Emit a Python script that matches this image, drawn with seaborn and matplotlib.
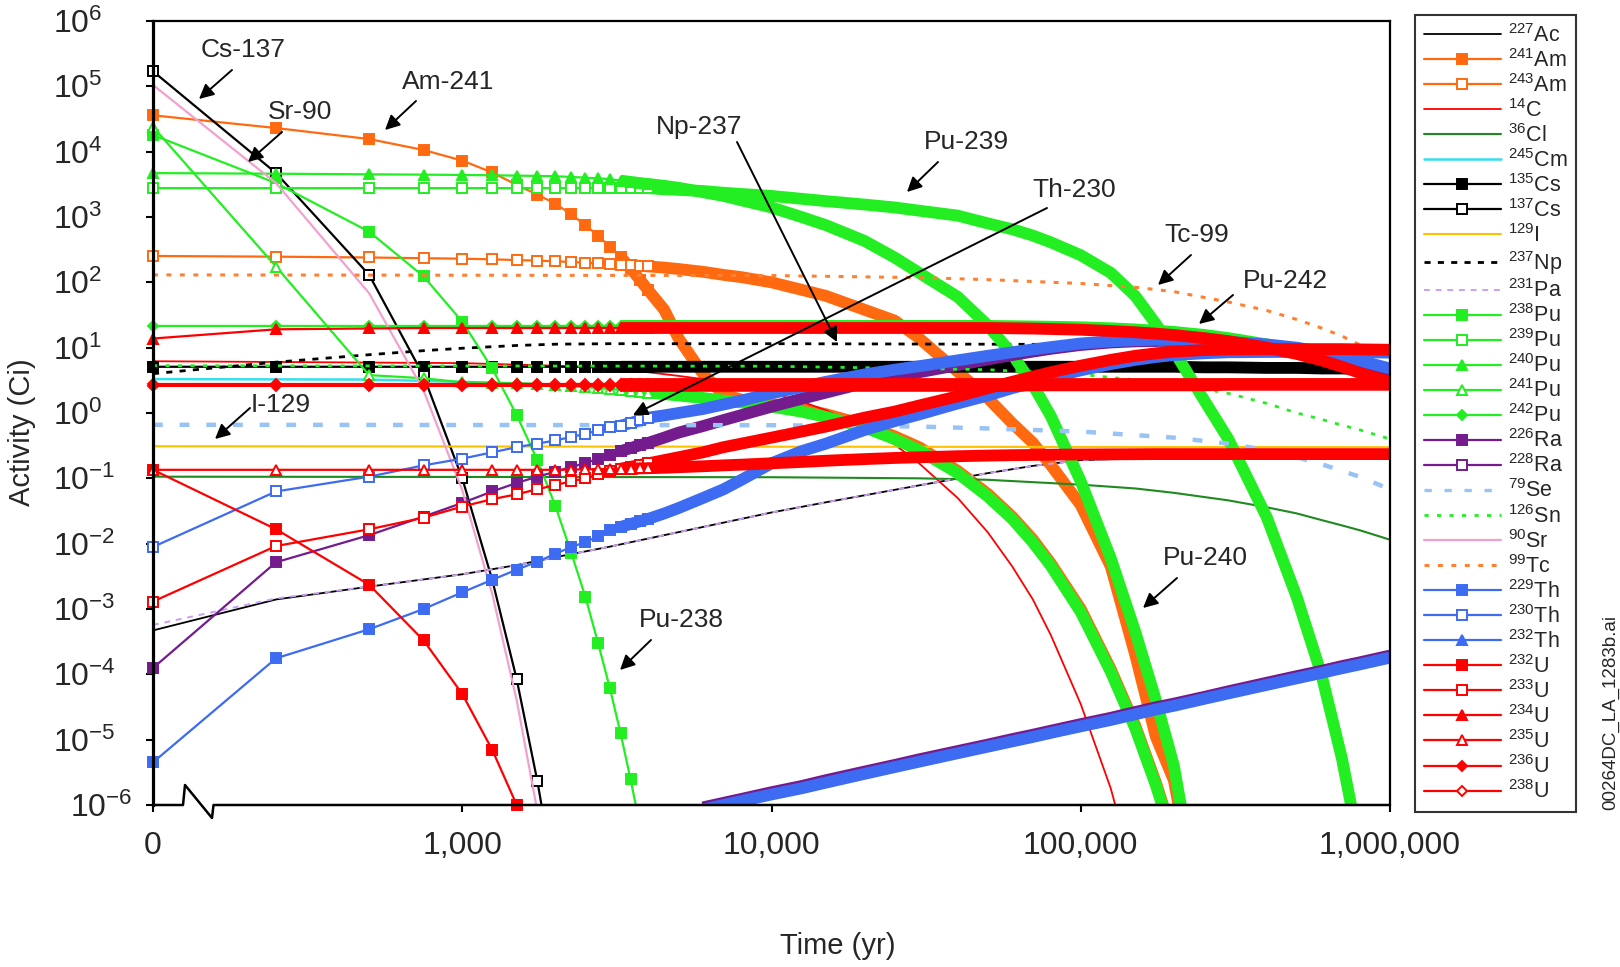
import numpy as np
import matplotlib
matplotlib.use("Agg")
import matplotlib.pyplot as plt
from matplotlib.lines import Line2D
import seaborn as sns

nan = np.nan

# ---- time grids (yr); t = 0 sits at the axis break ----
t_full = [0, 250, 500, 750, 1000, 1250, 1500, 1750, 2000, 2250, 2500, 2750, 3000, 3250,
          3500, 3750, 4000, 4500, 5000, 6000, 7000, 8000, 10000, 12500, 15000, 20000, 25000,
          30000, 40000, 50000, 60000, 70000, 80000, 100000, 125000, 150000, 175000, 200000,
          250000, 300000, 400000, 500000, 600000, 700000, 800000, 1000000]
t_early = [0, 250, 500, 750, 1000, 1250, 1500, 1750, 2000, 2250, 2500, 2750, 3000, 3250, 3500, 3750]
t_late = [6000, 7000, 8000, 10000, 12500, 15000, 20000, 25000, 30000, 40000, 50000, 60000, 70000,
          80000, 100000, 125000, 150000, 175000, 200000, 250000, 300000, 400000, 500000, 600000,
          700000, 800000, 1000000]
t_ac = [0, 250, 500, 1000, 1500, 2000, 3000, 5000, 7000, 10000, 15000, 20000, 30000, 50000,
        70000, 100000, 200000, 500000, 1000000]
t_c14 = [0, 1000, 2000, 3000, 4000, 5000, 6000, 7000, 8000, 10000, 12500, 15000, 20000, 25000,
         30000, 40000, 50000, 60000, 70000, 80000, 100000, 125000, 140000]
t_cl36 = [0, 10000, 30000, 50000, 100000, 150000, 200000, 300000, 400000, 500000, 600000,
          700000, 800000, 1000000]
t_cm245 = [0, 500, 1000, 2000, 3000, 5000, 7000, 10000, 15000, 20000, 30000, 50000, 70000,
           100000, 150000, 200000]
t_i129 = [0, 1000000]
t_np237 = [0, 250, 500, 750, 1000, 1500, 2000, 3000, 5000, 10000, 50000, 100000, 500000, 1000000]
t_se79 = [0, 10000, 30000, 50000, 100000, 200000, 300000, 400000, 500000, 600000, 700000,
          800000, 1000000]
t_sn126 = [0, 10000, 50000, 100000, 200000, 300000, 400000, 500000, 600000, 700000, 800000, 1000000]
t_tc99 = [0, 10000, 30000, 50000, 100000, 150000, 200000, 300000, 400000, 500000, 600000,
          700000, 800000, 900000, 1000000]

# ---- activities (Ci) ----
ac227 = [4.7e-4, 1.4e-3, 2.2e-3, 3.4e-3, 4.7e-3, 6.2e-3, 9e-3, 0.015, 0.021, 0.03, 0.043, 0.055,
         0.078, 0.12, 0.155, 0.19, 0.21, 0.21, 0.2]
pa231 = [5.7e-4, 1.45e-3, 2.2e-3, 3.4e-3, 4.7e-3, 6.2e-3, 9e-3, 0.015, 0.021, 0.03, 0.043, 0.055,
         0.078, 0.12, 0.155, 0.19, 0.21, 0.21, 0.2]
am241 = [3.6e4, 2.3e4, 1.56e4, 1.06e4, 7.3e3, 4.8e3, 3.1e3, 2.2e3, 1.6e3,
         1.1e3, 750, 520, 350, 245, 165, 110, 75,
         38, 14, 4.0, 1.9, 1.6, 1.38, 1.16, 0.96, 0.66, 0.44, 0.3,
         0.13, 0.058, 0.026, 0.0116, 5e-3, 1e-3, 1.2e-4, 1.65e-5, 2.2e-6, 3e-7,
         nan, nan, nan, nan, nan, nan, nan, nan]
am243 = [253, 247, 240, 234, 230, 225, 219, 215, 210,
         205, 200, 195, 190, 187, 183, 179, 175,
         168, 160, 145, 130, 120, 100, 77, 62, 38, 26, 14,
         4.3, 1.7, 0.7, 0.35, 0.16, 0.039, 4.5e-3, 2e-4, 1.1e-5, 2.4e-6,
         1e-8, nan, nan, nan, nan, nan, nan, nan]
c14 = [6.2, 5.8, 5.3, 4.8, 4.2, 3.7, 3.3, 2.9, 2.5, 2.0, 1.5, 1.1, 0.6, 0.33, 0.17, 0.05, 0.015,
       4.5e-3, 1.4e-3, 4e-4, 3.5e-5, 1.8e-6, 2.5e-7]
cl36 = [0.106, 0.104, 0.1, 0.095, 0.08, 0.07, 0.06, 0.046, 0.036, 0.029, 0.023, 0.019, 0.016, 0.0115]
cm245 = [3.3, 3.25, 3.0, 2.7, 2.35, 1.85, 1.55, 1.25, 0.87, 0.6, 0.27, 0.053, 0.0105, 9e-4,
         1.5e-5, 2.7e-7]
cs135 = [5.1, 5.1, 5.1, 5.1, 5.1, 5.1, 5.1, 5.1, 5.1,
         5.1, 5.1, 5.1, 5.1, 5.1, 5.1, 5.1, 5.1,
         5.1, 5.1, 5.1, 5.1, 5.1, 5.1, 5.1, 5.1, 5.1, 5.1, 5.1,
         5.1, 5.1, 5.1, 5.1, 5.1, 5.1, 5.1, 5.1, 5.1, 5.1,
         5.0, 5.0, 4.9, 4.9, 4.8, 4.8, 4.7, 4.6]
cs137 = [1.7e5, 4.7e3, 130, 3.7, 0.1, 2.8e-3, 8.4e-5, 2.3e-6, 6e-8, nan, nan, nan, nan, nan, nan, nan]
i129 = [0.31, 0.30]
np237 = [4.0, 6.0, 7.8, 9.0, 9.8, 10.8, 11.3, 11.5, 11.5, 11.5, 11.3, 11.2, 10.5, 10.0]
pu238 = [1.8e4, 3.3e3, 596, 123, 25, 4.8, 0.93, 0.19, 0.038, 7.3e-3, 1.55e-3, 3e-4, 6.2e-5,
         1.26e-5, 2.5e-6, 5e-7]
pu239 = [2770, 2770, 2770, 2770, 2770, 2770, 2770, 2770, 2770,
         2770, 2770, 2770, 2770, 2770, 2770, 2770, 2770,
         2650, 2600, 2500, 2350, 2250, 2100, 1900, 1750, 1550, 1400, 1250,
         1050, 800, 650, 520, 410, 260, 140, 62, 23, 9,
         1.6, 0.4, 0.025, 1.5e-3, 1e-4, 5e-6, 2e-7, nan]
pu240 = [4700, 4600, 4500, 4450, 4400, 4350, 4300, 4250, 4200,
         4100, 4000, 3900, 3800, 3600, 3450, 3300, 3200,
         3000, 2800, 2400, 2100, 1800, 1400, 1000, 750, 430, 240, 140,
         60, 22, 8, 2.7, 0.9, 0.09, 6e-3, 4.5e-4, 4e-5, 4e-6,
         1e-8, nan, nan, nan, nan, nan, nan, nan]
pu241 = [2.4e4, 174, 3.8, 3.4, 2.95, 2.9, 2.85, 2.8, 2.7,
         2.6, 2.5, 2.42, 2.35, 2.28, 2.2, 2.12, 2.05,
         1.95, 1.85, 1.7, 1.55, 1.45, 1.25, 1.05, 0.87, 0.6, 0.4, 0.27,
         0.12, 0.053, 0.024, 0.0105, 4.6e-3, 9e-4, 1.1e-4, 1.5e-5, 2e-6, 2.7e-7,
         nan, nan, nan, nan, nan, nan, nan, nan]
pu242 = [21.5, 21.5, 21.5, 21.5, 21.5, 21.5, 21.5, 21.5, 21.5,
         21.5, 21.5, 21.5, 21.5, 21.5, 21.5, 21.5, 21.5,
         21.5, 21.5, 21.5, 21.5, 21.5, 21.5, 21.5, 21.5, 21.5, 21.5, 21.5,
         21.5, 21.5, 21.3, 21.1, 20.9, 20.5, 19.8, 19.0, 18.2, 17.4,
         15.7, 14.0, 11.2, 8.8, 7.0, 5.6, 4.5, 3.4]
ra226 = [1.25e-4, 5.2e-3, 0.0135, 0.026, 0.042, 0.063, 0.085, 0.106, 0.126,
         0.15, 0.17, 0.2, 0.23, 0.26, 0.29, 0.32, 0.35,
         0.42, 0.5, 0.63, 0.78, 0.93, 1.25, 1.65, 2.05, 2.9, 3.6, 4.2,
         5.4, 6.6, 7.7, 8.7, 9.6, 11.0, 12.0, 12.5, 12.7, 12.7,
         12.4, 11.8, 10.7, 9.6, 8.3, 7.0, 6.0, 4.5]
ra228 = [9.2e-7, 1.08e-6, 1.24e-6, 1.57e-6, 1.95e-6, 2.4e-6, 3.25e-6, 4.1e-6, 5.0e-6, 6.7e-6,
         8.4e-6, 1.02e-5, 1.19e-5, 1.37e-5, 1.73e-5, 2.16e-5, 2.65e-5, 3.13e-5, 3.56e-5, 4.5e-5,
         5.5e-5, 7.45e-5, 9.4e-5, 1.13e-4, 1.34e-4, 1.53e-4, 1.94e-4]
se79 = [0.66, 0.65, 0.62, 0.58, 0.52, 0.42, 0.34, 0.27, 0.21, 0.165, 0.13, 0.105, 0.068]
sn126 = [5.3, 5.2, 4.6, 3.9, 2.8, 2.0, 1.4, 1.0, 0.8, 0.65, 0.55, 0.4]
sr90 = [1.05e5, 3.3e3, 68, 2.2, 0.066, 1.7e-3, 4e-5, 8e-7, nan, nan, nan, nan, nan, nan, nan, nan]
tc99 = [130, 127, 118, 110, 96, 84, 72, 50, 37, 27, 20, 15, 11, 8.5, 6.5]
th229 = [4.5e-6, 1.76e-4, 4.9e-4, 1.0e-3, 1.8e-3, 2.8e-3, 4e-3, 5.3e-3, 7e-3,
         8.9e-3, 0.0105, 0.013, 0.016, 0.018, 0.02, 0.022, 0.024,
         0.029, 0.035, 0.05, 0.068, 0.095, 0.17, 0.26, 0.34, 0.55, 0.75, 0.95,
         1.4, 1.85, 2.4, 2.9, 3.5, 4.5, 5.6, 6.5, 7.2, 7.7,
         8.2, 8.5, 8.6, 8.6, 8.6, 8.6, 8.5, 8.4]
th230 = [8.9e-3, 0.063, 0.106, 0.158, 0.2, 0.25, 0.3, 0.34, 0.38,
         0.43, 0.48, 0.54, 0.6, 0.64, 0.7, 0.78, 0.85,
         0.92, 1.0, 1.15, 1.35, 1.55, 2.0, 2.5, 3.0, 3.9, 4.6, 5.2,
         6.4, 7.5, 8.5, 9.4, 10.2, 11.6, 12.5, 13.0, 13.2, 13.2,
         12.9, 12.3, 11.2, 10.0, 8.6, 7.3, 6.3, 4.8]
th232 = [8.5e-7, 1.0e-6, 1.15e-6, 1.45e-6, 1.8e-6, 2.2e-6, 3.0e-6, 3.8e-6, 4.6e-6, 6.2e-6,
         7.8e-6, 9.4e-6, 1.1e-5, 1.27e-5, 1.6e-5, 2.0e-5, 2.45e-5, 2.9e-5, 3.3e-5, 4.2e-5,
         5.1e-5, 6.9e-5, 8.7e-5, 1.05e-4, 1.24e-4, 1.42e-4, 1.8e-4]
u232 = [0.135, 0.0166, 2.35e-3, 3.3e-4, 5e-5, 7e-6, 1e-6, 1.5e-7, nan, nan, nan, nan, nan, nan, nan, nan]
u233 = [1.3e-3, 9.2e-3, 0.0166, 0.025, 0.037, 0.048, 0.057, 0.068, 0.079,
        0.09, 0.1, 0.115, 0.13, 0.14, 0.15, 0.16, 0.17,
        0.19, 0.21, 0.25, 0.3, 0.34, 0.42, 0.52, 0.62, 0.85, 1.05, 1.3,
        1.8, 2.4, 3.0, 3.6, 4.2, 5.3, 6.5, 7.5, 8.2, 8.7,
        9.2, 9.4, 9.5, 9.5, 9.5, 9.5, 9.4, 9.3]
u234 = [13.8, 19.1, 19.7, 20, 20, 20, 20, 20, 20,
        20, 20, 20, 20, 20, 20, 20, 20,
        20, 20, 20, 20, 20, 20, 20, 20, 20, 20, 20,
        20, 20, 19.8, 19.6, 19.3, 18.8, 18.0, 17.2, 16.4, 15.6,
        14.0, 12.6, 10.0, 8.0, 6.4, 5.1, 4.1, 3.0]
u235 = [0.135, 0.135, 0.135, 0.135, 0.135, 0.135, 0.135, 0.135, 0.135,
        0.136, 0.137, 0.138, 0.139, 0.14, 0.141, 0.142, 0.143,
        0.145, 0.148, 0.153, 0.158, 0.162, 0.17, 0.178, 0.186, 0.197, 0.205, 0.21,
        0.218, 0.223, 0.226, 0.228, 0.23, 0.232, 0.233, 0.234, 0.235, 0.235,
        0.235, 0.235, 0.235, 0.235, 0.235, 0.235, 0.235, 0.235]
u236 = [2.6, 2.6, 2.6, 2.6, 2.6, 2.6, 2.6, 2.6, 2.6,
        2.6, 2.6, 2.6, 2.6, 2.6, 2.6, 2.6, 2.6,
        2.6, 2.6, 2.6, 2.6, 2.6, 2.6, 2.6, 2.6, 2.6, 2.6, 2.6,
        2.6, 2.6, 2.6, 2.65, 2.65, 2.65, 2.65, 2.65, 2.65, 2.65,
        2.65, 2.7, 2.7, 2.7, 2.7, 2.7, 2.7, 2.7]
u238 = [2.75, 2.75, 2.75, 2.75, 2.75, 2.75, 2.75, 2.75, 2.75,
        2.75, 2.75, 2.75, 2.75, 2.75, 2.75, 2.75, 2.75,
        2.75, 2.75, 2.75, 2.75, 2.75, 2.75, 2.75, 2.75, 2.75, 2.75, 2.75,
        2.75, 2.75, 2.75, 2.75, 2.75, 2.75, 2.75, 2.75, 2.75, 2.75,
        2.75, 2.75, 2.75, 2.75, 2.75, 2.75, 2.75, 2.75]

# ---- colours ----
ORANGE = "#FF6A10"
RED = "#FF0000"
DKGREEN = "#1F8A1F"
CYAN = "#33E0F0"
GOLD = "#FFC000"
LAVENDER = "#C9A0F0"
GREEN = "#22EE22"
PURPLE = "#741B8E"
LTBLUE = "#99C2F5"
PINK = "#F2A1CF"
TCORANGE = "#FF8030"
BLUE = "#3D6BF2"

# mass, element, times, values, colour, marker, filled, linestyle, linewidth, band
series = [
    ("227", "Ac", t_ac, ac227, "black", None, True, "-", 1.3, False),
    ("241", "Am", t_full, am241, ORANGE, "s", True, "-", 1.6, True),
    ("243", "Am", t_full, am243, ORANGE, "s", False, "-", 1.6, True),
    ("14", "C", t_c14, c14, RED, None, True, "-", 1.3, False),
    ("36", "Cl", t_cl36, cl36, DKGREEN, None, True, "-", 1.5, False),
    ("245", "Cm", t_cm245, cm245, CYAN, None, True, "-", 1.8, False),
    ("135", "Cs", t_full, cs135, "black", "s", True, "-", 1.6, True),
    ("137", "Cs", t_early, cs137, "black", "s", False, "-", 1.6, False),
    ("129", "I", t_i129, i129, GOLD, None, True, "-", 1.5, False),
    ("237", "Np", t_np237, np237, "black", None, True, (0, (2.2, 2.6)), 2.0, False),
    ("231", "Pa", t_ac, pa231, LAVENDER, None, True, (0, (3, 3)), 1.4, False),
    ("238", "Pu", t_early, pu238, GREEN, "s", True, "-", 1.6, False),
    ("239", "Pu", t_full, pu239, GREEN, "s", False, "-", 1.6, True),
    ("240", "Pu", t_full, pu240, GREEN, "^", True, "-", 1.6, True),
    ("241", "Pu", t_full, pu241, GREEN, "^", False, "-", 1.6, True),
    ("242", "Pu", t_full, pu242, GREEN, "D", True, "-", 1.6, True),
    ("226", "Ra", t_full, ra226, PURPLE, "s", True, "-", 1.6, True),
    ("228", "Ra", t_late, ra228, PURPLE, "s", False, "-", 1.6, True),
    ("79", "Se", t_se79, se79, LTBLUE, None, True, (0, (2.2, 3.8)), 3.2, False),
    ("126", "Sn", t_sn126, sn126, GREEN, None, True, (0, (1.5, 3)), 2.0, False),
    ("90", "Sr", t_early, sr90, PINK, None, True, "-", 1.6, False),
    ("99", "Tc", t_tc99, tc99, TCORANGE, None, True, (0, (1.6, 2.8)), 2.2, False),
    ("229", "Th", t_full, th229, BLUE, "s", True, "-", 1.6, True),
    ("230", "Th", t_full, th230, BLUE, "s", False, "-", 1.6, True),
    ("232", "Th", t_late, th232, BLUE, "^", True, "-", 1.6, True),
    ("232", "U", t_early, u232, RED, "s", True, "-", 1.6, False),
    ("233", "U", t_full, u233, RED, "s", False, "-", 1.6, True),
    ("234", "U", t_full, u234, RED, "^", True, "-", 1.6, True),
    ("235", "U", t_full, u235, RED, "^", False, "-", 1.6, True),
    ("236", "U", t_full, u236, RED, "D", True, "-", 1.6, True),
    ("238", "U", t_full, u238, RED, "D", False, "-", 1.6, True),
]
MSIZE = {"s": 6.5, "^": 7.5, "D": 5.5}

sns.set_theme(style="white")
plt.rcParams["font.family"] = ["Liberation Sans", "DejaVu Sans"]
plt.rcParams["mathtext.fontset"] = "custom"
plt.rcParams["mathtext.rm"] = "Liberation Sans"
plt.rcParams["mathtext.it"] = "Liberation Sans:italic"
plt.rcParams["mathtext.bf"] = "Liberation Sans:bold"

fig = plt.figure(figsize=(16.2, 9.67), dpi=100)
ax = fig.add_axes([153 / 1620, (967 - 805) / 967, 1237 / 1620, 784 / 967])
ax.set_xscale("log")
ax.set_yscale("log")


def draw(t, v, color, marker, filled, ls, lw, band, zo):
    t = np.asarray(t, dtype=float)
    x = np.where(t == 0, 100.0, t)          # "0" is drawn at the axis break
    y = np.asarray(v, dtype=float)
    ok = ~np.isnan(y)
    x, y = x[ok], y[ok]
    sns.lineplot(x=x, y=y, ax=ax, color=color, lw=lw, linestyle=ls,
                 estimator=None, sort=False, zorder=zo)
    if band:
        # dense 250-yr markers merge into a thick ribbon on the log axis
        b = x >= 3250
        sns.lineplot(x=x[b], y=y[b], ax=ax, color=color, lw=8.5, solid_capstyle="butt",
                     estimator=None, sort=False, zorder=zo)
    if marker:
        m = (x <= 4000) & (y >= 1e-6)
        if m.any():
            sns.lineplot(x=x[m], y=y[m], ax=ax, color=color, linestyle="none",
                         marker=marker, markersize=MSIZE[marker],
                         markerfacecolor=color if filled else "white",
                         markeredgecolor=color, markeredgewidth=1.4,
                         estimator=None, sort=False, zorder=zo, clip_on=False)


order = list(range(len(series)))
order[-2], order[-1] = order[-1], order[-2]   # filled U-236 diamonds over U-238
for k, i in enumerate(order):
    _, _, t, v, c, mk, fl, ls, lw, band = series[i]
    draw(t, v, c, mk, fl, ls, lw, band, 2 + k * 0.01)

ax.set_xlim(100, 1e6)
ax.set_ylim(1e-6, 1e6)
ax.xaxis.set_minor_locator(matplotlib.ticker.NullLocator())
ax.yaxis.set_minor_locator(matplotlib.ticker.NullLocator())
ax.set_xticks([100, 1e3, 1e4, 1e5, 1e6])
ax.set_xticklabels(["0", "1,000", "10,000", "100,000", "1,000,000"])
yt = [10.0 ** e for e in range(-6, 7)]
ax.set_yticks(yt)
ax.set_yticklabels([r"$\mathdefault{10^{%d}}$" % e for e in range(-6, 7)], ha="left")
ax.tick_params(axis="x", which="major", direction="out", length=5, width=1.5,
               labelsize=23, pad=14, color="black", bottom=True)
ax.tick_params(axis="y", which="major", direction="out", length=5, width=1.5,
               labelsize=23, pad=67, color="black", left=True)
ax.yaxis.get_major_ticks()[0].set_pad(55)

for side in ["top", "right", "left"]:
    ax.spines[side].set_color("black")
    ax.spines[side].set_linewidth(1.6)
ax.spines["left"].set_linewidth(2.3)
ax.spines["bottom"].set_visible(False)


def px(x, y):
    return ((x - 153) / 1237, (805 - y) / 784)


# bottom axis with the break symbol
brk = [px(153, 805), px(183, 805), px(185, 785), px(212, 818), px(213.5, 805), px(1390, 805)]
ax.plot([p[0] for p in brk], [p[1] for p in brk], color="black", lw=1.8,
        transform=ax.transAxes, clip_on=False, zorder=20)

notes = [
    ("Cs-137", (243, 50), (232, 70), (199, 99)),
    ("Sr-90", (300, 112), (282, 132), (248, 162)),
    ("Am-241", (448, 82), (416, 101), (385, 130)),
    ("Np-237", (699, 127), (737, 142), (837, 342)),
    ("Pu-239", (966, 142), (938, 162), (907, 192)),
    ("Th-230", (1074, 190), (1047, 208), (633, 415)),
    ("Tc-99", (1197, 235), (1191, 255), (1158, 285)),
    ("Pu-242", (1285, 281), (1233, 295), (1199, 324)),
    ("I-129", (281, 405), (250, 408), (215, 439)),
    ("Pu-238", (681, 620), (651, 640), (620, 670)),
    ("Pu-240", (1205, 558), (1177, 578), (1143, 608)),
]
for txt, tp, a0, a1 in notes:
    ax.annotate("", xy=px(*a1), xytext=px(*a0), xycoords="axes fraction",
                textcoords="axes fraction",
                arrowprops=dict(arrowstyle="-|>", color="black", lw=1.4,
                                mutation_scale=22, shrinkA=0, shrinkB=0), zorder=30)
    ax.text(*px(*tp), txt, transform=ax.transAxes, ha="center", va="center",
            fontsize=19, zorder=30)

fig.text(22 / 1620, 1 - 432 / 967, "Activity (Ci)", rotation=90, ha="center", va="center",
         fontsize=21)
fig.text(838 / 1620, 1 - 946 / 967, "Time (yr)", ha="center", va="center", fontsize=21)
fig.text(1611 / 1620, 1 - 713 / 967, "00264DC_LA_1283b.ai", rotation=90, ha="center",
         va="center", fontsize=13.5)

handles, labels = [], []
for mass, el, _, _, c, mk, fl, ls, lw, _ in series:
    handles.append(Line2D([], [], color=c, lw=min(lw, 2.4), linestyle=ls, marker=mk,
                          markersize=MSIZE.get(mk, 6), markerfacecolor=c if fl else "white",
                          markeredgecolor=c, markeredgewidth=1.4))
    labels.append(r"$^{%s}$%s" % (mass, el))
leg = fig.legend(handles, labels, loc="upper left", bbox_to_anchor=(1415 / 1620, 1 - 15 / 967),
                 borderaxespad=0, frameon=True, fancybox=False, edgecolor="black",
                 fontsize=15.5, handlelength=3.6, handletextpad=0.3, labelspacing=0.1,
                 numpoints=1, borderpad=0.4)
leg.get_frame().set_linewidth(1.5)

fig.savefig("out.png", dpi=100)
